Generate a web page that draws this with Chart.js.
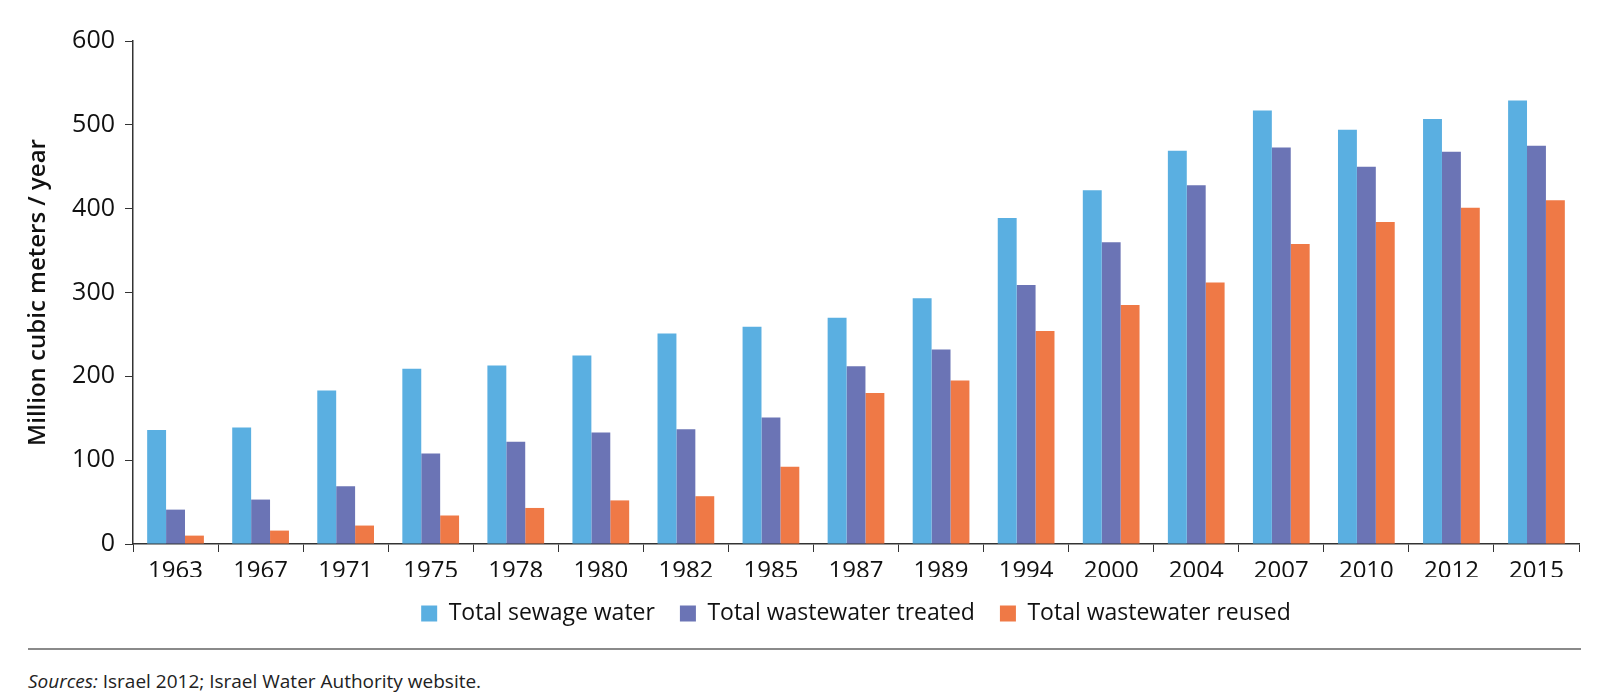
<!DOCTYPE html>
<html>
<head>
<meta charset="utf-8">
<script src="https://cdn.jsdelivr.net/npm/chart.js@4"></script>
<style>
  body { margin: 0; background: #fff; font-family: 'Open Sans', sans-serif; }
  #wrap { position: absolute; left: 0; top: 0; width: 1600px; height: 635px; }
  #rule { position: absolute; left: 28px; top: 648px; width: 1553px; height: 2px; background: #8a8a8a; }
  #src { position: absolute; left: 28px; top: 668px; font-size: 19px; color: #222; }
</style>
</head>
<body>
<div id="wrap"><canvas id="chart"></canvas></div>
<div id="rule"></div>
<div id="src"><i>Sources:</i> Israel 2012; Israel Water Authority website.</div>
<script>
const years = ['1963', '1967', '1971', '1975', '1978', '1980', '1982', '1985', '1987',
  '1989', '1994', '2000', '2004', '2007', '2010', '2012', '2015'];
const sewage = [136, 139, 183, 209, 213, 225, 251, 259, 270, 293, 389, 422, 469, 517, 494, 507, 529];
const treated = [41, 53, 69, 108, 122, 133, 137, 151, 212, 232, 309, 360, 428, 473, 450, 468, 475];
const reused = [10, 16, 22, 34, 43, 52, 57, 92, 180, 195, 254, 285, 312, 358, 384, 401, 410];
const yTicks = [0, 100, 200, 300, 400, 500, 600];

const axisColor = '#333';

new Chart(document.getElementById('chart'), {
  type: 'bar',
  data: {
    labels: years,
    datasets: [
      { label: 'Total sewage water', data: sewage, backgroundColor: '#5aafe1' },
      { label: 'Total wastewater treated', data: treated, backgroundColor: '#6b74b5' },
      { label: 'Total wastewater reused', data: reused, backgroundColor: '#ef7946' }
    ]
  },
  options: {
    responsive: true,
    maintainAspectRatio: false,
    animation: false,
    categoryPercentage: 0.667,
    barPercentage: 1.0,
    layout: { padding: { top: 41, right: 21, bottom: 0, left: 0 } },
    plugins: {
      tooltip: { enabled: false },
      legend: {
        position: 'bottom',
        fullSize: false,
        labels: {
          boxWidth: 16,
          boxHeight: 16,
          padding: 25,
          color: '#111',
          font: { family: 'Open Sans', size: 23 }
        }
      }
    },
    scales: {
      x: {
        grid: { display: true, drawOnChartArea: false, drawTicks: true, tickLength: 8, color: axisColor, offset: true },
        border: { display: true, color: axisColor, width: 1.5 },
        ticks: { color: '#111', padding: 5, maxRotation: 0, font: { family: 'Open Sans', size: 24 } },
        // labels overflow into the legend band on purpose, keeps legend near the ticks
        afterFit: s => { s.height = 33; }
      },
      y: {
        min: 0,
        max: 600,
        afterBuildTicks: s => { s.ticks = yTicks.map(v => ({ value: v })); },
        grid: { display: true, drawOnChartArea: false, drawTicks: true, tickLength: 8, color: axisColor },
        border: { display: true, color: axisColor, width: 1.5 },
        ticks: { color: '#111', padding: 10, font: { family: 'Open Sans', size: 25 } },
        title: {
          display: true,
          text: 'Million cubic meters / year',
          color: '#111',
          padding: { top: 24, bottom: 0 },
          font: { family: 'Open Sans', size: 24, weight: '600' }
        },
        afterFit: s => { s.width = 133; }
      }
    }
  }
});
</script>
</body>
</html>
